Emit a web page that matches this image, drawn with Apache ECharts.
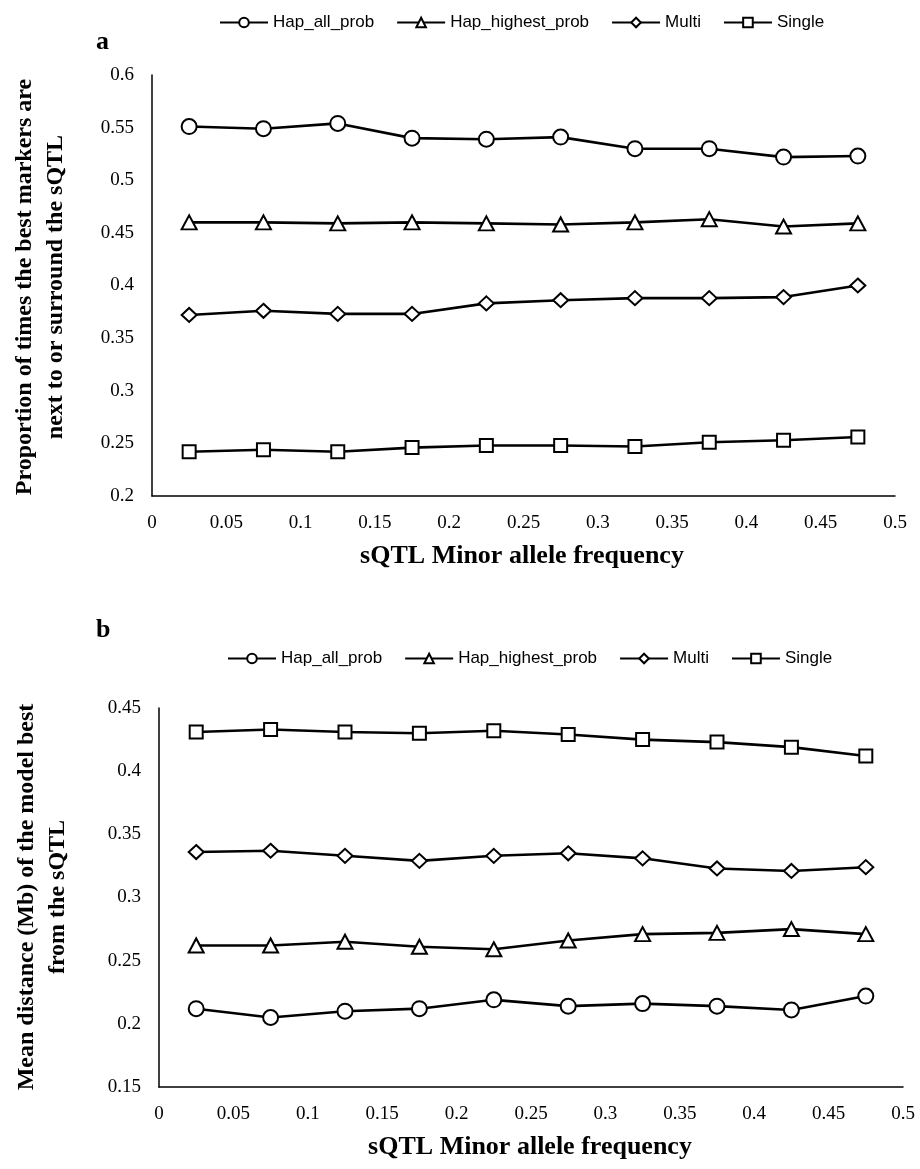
<!DOCTYPE html>
<html>
<head>
<meta charset="utf-8">
<script src="https://cdn.jsdelivr.net/npm/echarts@6/dist/echarts.min.js"></script>
<style>
html,body{margin:0;padding:0;background:#fff;}
#ca{position:absolute;left:0;top:0;width:920px;height:590px;}
#cb{position:absolute;left:0;top:590px;width:920px;height:579px;}
</style>
</head>
<body>
<div id="ca"></div>
<div id="cb"></div>
<script>
// Shared x categories (sQTL MAF bin midpoints)
const mafBins = [0.025, 0.075, 0.125, 0.175, 0.225, 0.275, 0.325, 0.375, 0.425, 0.475];
const seriesNames = ['Hap_all_prob', 'Hap_highest_prob', 'Multi', 'Single'];

// Panel a: proportion of times best markers are next to / surround the sQTL
const a_hapAll     = [0.551, 0.549, 0.554, 0.540, 0.539, 0.541, 0.530, 0.530, 0.522, 0.523];
const a_hapHighest = [0.460, 0.460, 0.459, 0.460, 0.459, 0.458, 0.460, 0.463, 0.456, 0.459];
const a_multi      = [0.372, 0.376, 0.373, 0.373, 0.383, 0.386, 0.388, 0.388, 0.389, 0.400];
const a_single     = [0.242, 0.244, 0.242, 0.246, 0.248, 0.248, 0.247, 0.251, 0.253, 0.256];

// Panel b: mean distance (Mb) of the model best from the sQTL
const b_hapAll     = [0.212, 0.205, 0.210, 0.212, 0.219, 0.214, 0.216, 0.214, 0.211, 0.222];
const b_hapHighest = [0.262, 0.262, 0.265, 0.261, 0.259, 0.266, 0.271, 0.272, 0.275, 0.271];
const b_multi      = [0.336, 0.337, 0.333, 0.329, 0.333, 0.335, 0.331, 0.323, 0.321, 0.324];
const b_single     = [0.431, 0.433, 0.431, 0.430, 0.432, 0.429, 0.425, 0.423, 0.419, 0.412];

const symbols = ['circle', 'triangle', 'diamond', 'rect'];
const symSizes = [15, [15, 14], [15, 14], 13];

const SERIF = '"Liberation Serif", "DejaVu Serif", serif';
const SANS = '"Liberation Sans", Arial, sans-serif';

function mkSeries(arrs) {
  return arrs.map((vals, i) => ({
    name: seriesNames[i],
    type: 'line',
    data: mafBins.map((x, j) => [x, vals[j]]),
    symbol: symbols[i],
    symbolSize: symSizes[i],
    showAllSymbol: true,
    lineStyle: { color: '#000', width: 2.6 },
    itemStyle: { color: '#fff', borderColor: '#000', borderWidth: 2 },
    emphasis: { disabled: true },
    z: 3
  }));
}

function mkOption(cfg) {
  return {
    animation: false,
    backgroundColor: '#fff',
    legend: {
      data: seriesNames,
      top: cfg.legendTop,
      left: cfg.legendLeft,
      itemWidth: 48,
      itemHeight: 12,
      itemGap: 22,
      textStyle: { fontFamily: SANS, fontSize: 17, color: '#000' }
    },
    grid: cfg.grid,
    xAxis: {
      type: 'value',
      min: 0, max: 0.5, interval: 0.05,
      axisLine: { show: true, lineStyle: { color: '#000', width: 1.5 } },
      axisTick: { show: false },
      splitLine: { show: false },
      axisLabel: { color: '#000', fontFamily: SERIF, fontSize: 19, margin: 18 }
    },
    yAxis: {
      type: 'value',
      min: cfg.yMin, max: cfg.yMax, interval: 0.05,
      axisLine: { show: true, lineStyle: { color: '#000', width: 1.5 } },
      axisTick: { show: false },
      splitLine: { show: false },
      axisLabel: { color: '#000', fontFamily: SERIF, fontSize: 19, margin: 18 }
    },
    graphic: [
      { type: 'text', x: cfg.tagX, y: cfg.tagY,
        style: { text: cfg.tag, font: 'bold 26px ' + SERIF, fill: '#000',
                 textAlign: 'left', textVerticalAlign: 'middle' } },
      { type: 'text', x: cfg.xTitleX, y: cfg.xTitleY,
        style: { text: 'sQTL Minor allele frequency', font: 'bold 26px ' + SERIF, fill: '#000',
                 textAlign: 'center', textVerticalAlign: 'middle' } },
      { type: 'text', x: cfg.yTitleX, y: cfg.yTitleY, rotation: Math.PI / 2,
        style: { text: cfg.yTitle, font: 'bold 24px ' + SERIF, fill: '#000', lineHeight: 31,
                 textAlign: 'center', textVerticalAlign: 'middle' } }
    ],
    series: mkSeries(cfg.data)
  };
}

const ca = echarts.init(document.getElementById('ca'), null, { renderer: 'canvas' });
ca.setOption(mkOption({
  legendTop: 9, legendLeft: 214,
  grid: { left: 152, right: 25, top: 75, bottom: 590 - 496 },
  yMin: 0.2, yMax: 0.6,
  tag: 'a', tagX: 96, tagY: 42,
  xTitleX: 522, xTitleY: 556,
  yTitleX: 40, yTitleY: 287,
  yTitle: 'Proportion of times the best markers are\nnext to or surround the sQTL',
  data: [a_hapAll, a_hapHighest, a_multi, a_single]
}));

const cb = echarts.init(document.getElementById('cb'), null, { renderer: 'canvas' });
cb.setOption(mkOption({
  legendTop: 55, legendLeft: 222,
  grid: { left: 159, right: 17, top: 708 - 590, bottom: 579 - (1087 - 590) },
  yMin: 0.15, yMax: 0.45,
  tag: 'b', tagX: 96, tagY: 40,
  xTitleX: 530, xTitleY: 1147 - 590,
  yTitleX: 42, yTitleY: 897 - 590,
  yTitle: 'Mean distance (Mb) of the model best\nfrom the sQTL',
  data: [b_hapAll, b_hapHighest, b_multi, b_single]
}));
</script>
</body>
</html>
